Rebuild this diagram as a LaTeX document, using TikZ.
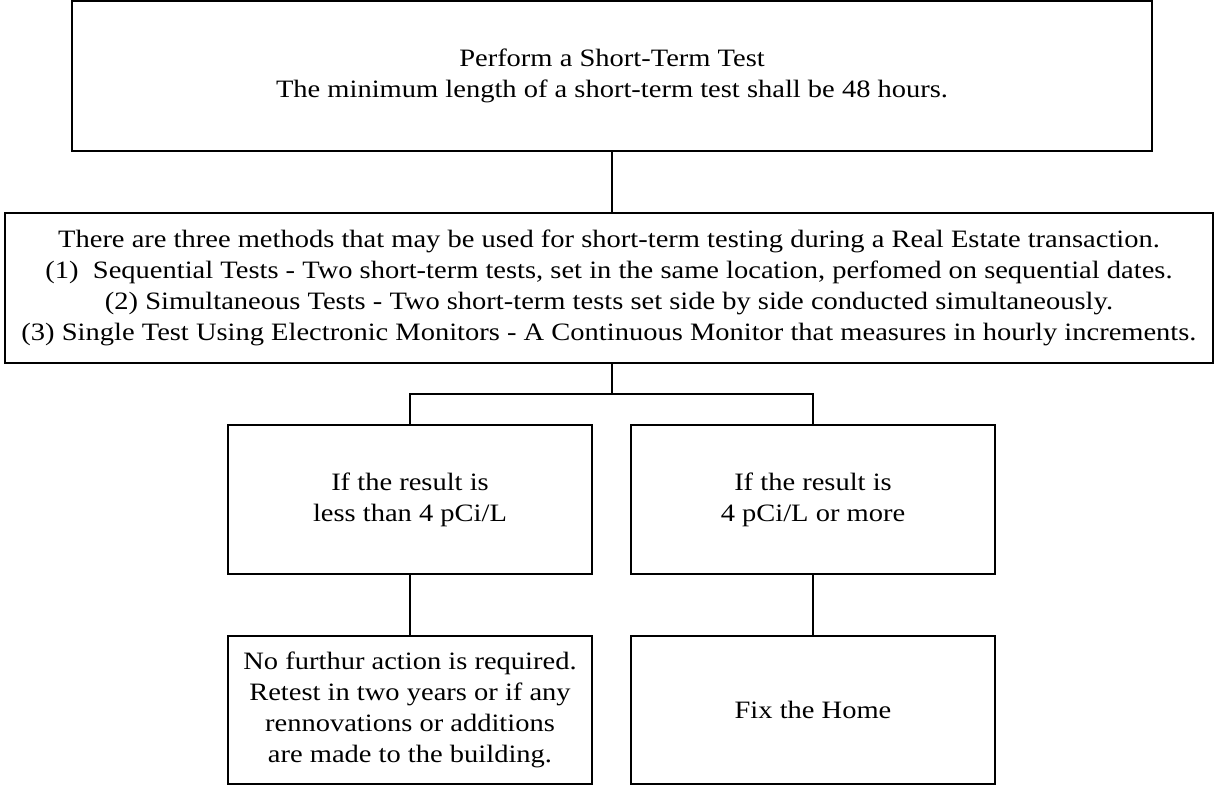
\documentclass[tikz,border=0pt]{standalone}
\usepackage{fontspec}
\setmainfont{Liberation Serif}[FakeStretch=1.14]
\tikzset{stepbox/.style={draw,line width=2pt,align=center,inner sep=0pt,font=\fontsize{25}{31}\selectfont}}

\begin{document}
\begin{tikzpicture}[x=1pt,y=-1pt,line width=2pt]
\useasboundingbox (0,0) rectangle (1215,786);

% the test and the three methods
\node[stepbox,minimum width=1080pt,minimum height=150pt] (test) at (612,76) {Perform a Short-Term Test\\The minimum length of a short-term test shall be 48 hours.};
\node[stepbox,minimum width=1208pt,minimum height=150pt] (methods) at (609,288) {There are three methods that may be used for short-term testing during a Real Estate transaction.\\(1)\ \ Sequential Tests - Two short-term tests, set in the same location, perfomed on sequential dates.\\(2) Simultaneous Tests - Two short-term tests set side by side conducted simultaneously.\\(3) Single Test Using Electronic Monitors - A Continuous Monitor that measures in hourly increments.};

% results
\node[stepbox,minimum width=364pt,minimum height=149pt] (low) at (410,499.5) {If the result is\\less than 4 pCi/L};
\node[stepbox,minimum width=364pt,minimum height=149pt] (high) at (813,499.5) {If the result is\\4 pCi/L or more};
\node[stepbox,minimum width=364pt,minimum height=148pt] (lowact) at (410,710) {No furthur action is required.\\Retest in two years or if any\\rennovations or additions\\are made to the building.};
\node[stepbox,minimum width=364pt,minimum height=148pt] (highact) at (813,710) {Fix the Home};
\coordinate (fork) at (612,394);

\draw (test.south) -- (test.south |- methods.north);
\draw (fork |- methods.south) -- (fork);
\draw (low.north) |- (fork) -| (high.north);
\draw (low.south) -- (lowact.north);
\draw (high.south) -- (highact.north);
\end{tikzpicture}
\end{document}
